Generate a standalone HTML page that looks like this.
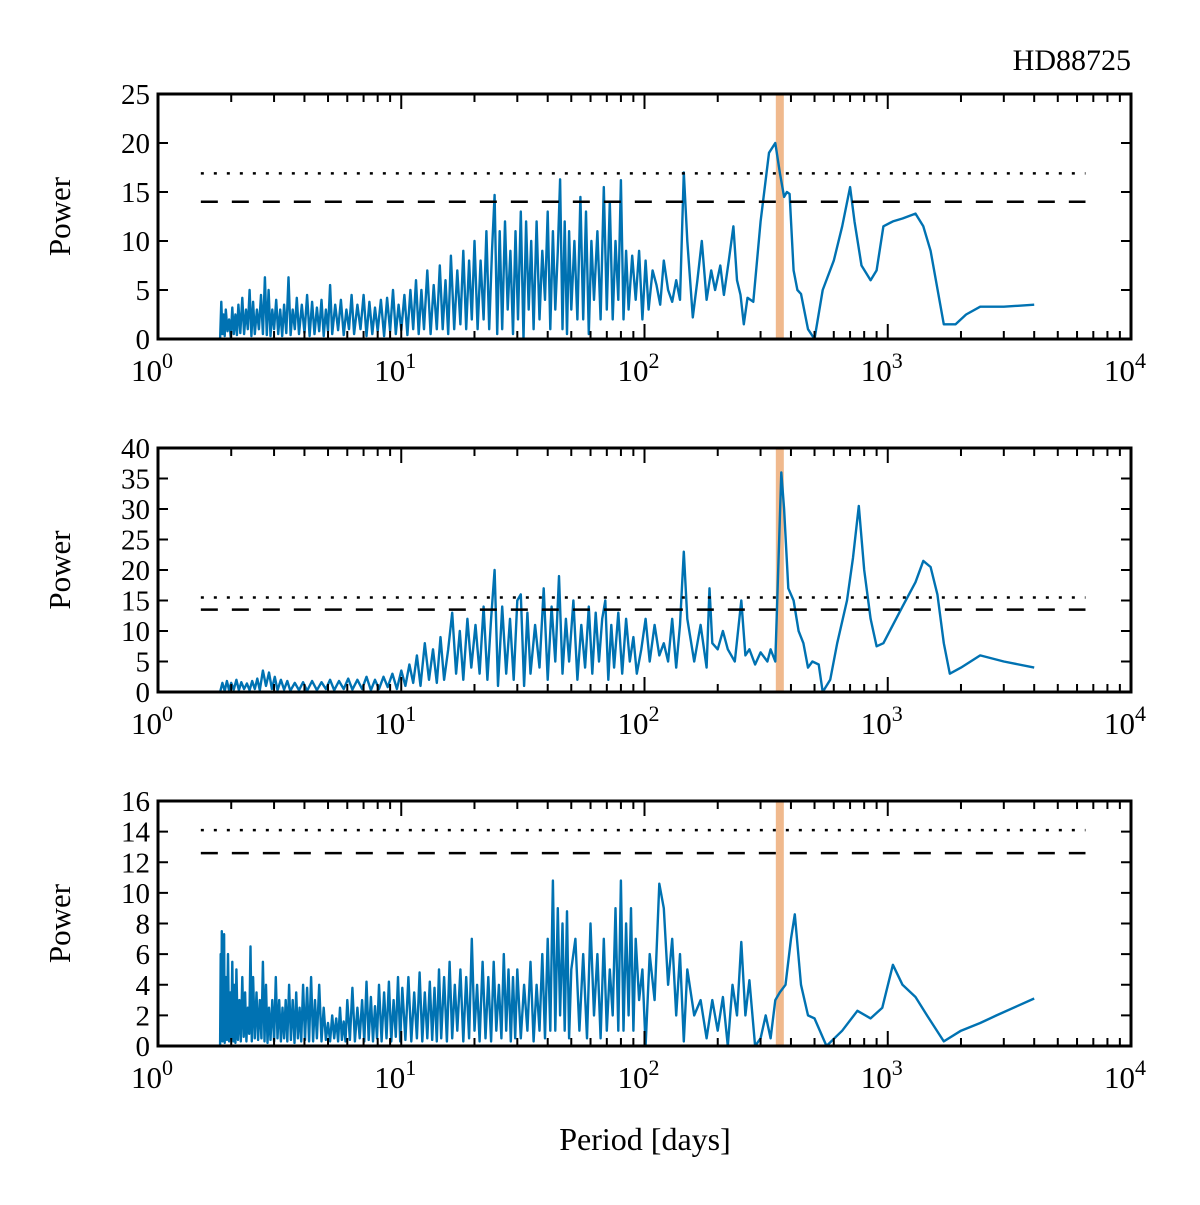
<!DOCTYPE html>
<html><head><meta charset="utf-8"><style>
body{margin:0;background:#fff}
svg{display:block}
text{font-family:"Liberation Serif","DejaVu Serif",serif;fill:#000}
</style></head><body>
<svg id="chart" width="1200" height="1205" viewBox="0 0 1200 1205" xmlns="http://www.w3.org/2000/svg">
<text x="1131" y="70" font-size="30" text-anchor="end">HD88725</text>
<text x="645" y="1150" font-size="32" text-anchor="middle">Period [days]</text>
</svg>
<script>
// Panel 1: [period, power]
const p1Data=[[1.8,0],[1.82,3.8],[1.84,0.5],[1.86,2.5],[1.88,0.3],[1.9,3],[1.93,0.8],[1.96,2],[1.99,0.2],[2.02,3.2],[2.05,0.5],[2.08,2.5],[2.11,0.4],[2.14,3.5],[2.18,0.6],[2.22,4.2],[2.26,0.5],[2.3,3],[2.34,1],[2.38,5],[2.42,0.3],[2.46,3.8],[2.5,0.5],[2.55,3],[2.6,1],[2.65,4.5],[2.7,0.5],[2.75,6.3],[2.8,0.4],[2.85,5],[2.9,0.3],[2.95,3],[3.0,1],[3.06,4],[3.12,0.5],[3.18,3],[3.24,0.3],[3.3,3.5],[3.37,0.6],[3.44,6.3],[3.51,0.4],[3.58,3],[3.65,1],[3.72,4.2],[3.8,0.5],[3.9,3.5],[4.0,0.6],[4.1,4.5],[4.2,0.3],[4.3,3.8],[4.4,0.5],[4.5,3.2],[4.6,0.8],[4.7,4],[4.8,0.3],[4.9,3],[5.0,0.8],[5.1,5.5],[5.2,0.5],[5.35,3.5],[5.5,0.9],[5.65,4],[5.8,0.4],[5.95,3],[6.1,1],[6.25,4.5],[6.4,0.5],[6.6,3.5],[6.8,1],[7.0,4.5],[7.2,0.3],[7.4,3.8],[7.6,0.5],[7.8,3.2],[8.0,0.8],[8.25,4],[8.5,0.3],[8.75,4.2],[9.0,0.8],[9.25,5],[9.5,0.5],[9.75,3.5],[10,0.9],[10.3,4.5],[10.6,0.4],[10.9,5],[11.2,1],[11.5,6],[11.8,0.5],[12.1,5],[12.4,1],[12.8,7],[13.2,0.5],[13.6,5.5],[14,1],[14.4,7.5],[14.8,1],[15.2,6],[15.6,0.5],[16,8.5],[16.5,1],[17,7],[17.5,1.5],[18,9],[18.5,1],[19,8],[19.5,2],[20,10],[20.6,1],[21.2,8],[21.8,2],[22.4,11],[23,1],[23.6,9],[24.2,14.7],[24.8,0.5],[25.4,11],[26,1],[26.7,12],[27.4,3],[28.1,9],[28.8,0.5],[29.5,11],[30.2,2],[31,13],[31.8,0],[32.6,12],[33.4,3],[34.2,10],[35,1],[36,12],[37,2],[38,9],[39,4],[40,13],[41,1],[42,11],[43,3],[44,9],[45,16.3],[46,1],[47,12],[48,0.5],[49,11],[50,3],[51.5,10],[53,2],[54.5,14.5],[56,2],[57.5,13],[59,0.5],[60.5,10],[62,4],[64,11],[66,2],[68,15.5],[70,3],[72,14],[74,2],[76,10],[78,4],[80,16.2],[82,2],[84,9],[86,3],[89,8.5],[92,4],[95,9],[98,2],[101,8],[104,3],[108,7],[112,5.5],[116,3.5],[120,8],[125,5],[130,3.8],[135,6],[140,4],[145,17],[150,10],[158,2.2],[165,6],[172,10],[180,4],[188,7],[195,5],[205,7.5],[212,4.5],[222,8],[232,11.5],[240,6],[248,4.5],[256,1.5],[265,4.2],[280,3.8],[300,12],[325,19],[345,20],[360,17],[375,14.5],[385,15],[395,14.8],[410,7],[425,5],[440,4.6],[470,1],[500,0],[540,5],[600,8],[650,11.5],[700,15.5],[730,12],[780,7.5],[850,6],[900,7],[960,11.5],[1050,12],[1150,12.3],[1300,12.8],[1400,11.5],[1500,9],[1700,1.5],[1900,1.5],[2100,2.5],[2400,3.3],[3000,3.3],[4000,3.5]];
const p1Thr=[16.9,14.0];
// Panel 2
const p2Data=[[1.8,0],[1.84,1.5],[1.88,0.2],[1.92,1.8],[1.96,0.3],[2.0,1.5],[2.05,0.4],[2.1,2],[2.15,0.3],[2.2,1.6],[2.26,0.5],[2.32,1.4],[2.38,0.3],[2.44,1.8],[2.5,0.5],[2.56,2.2],[2.62,0.3],[2.7,3.5],[2.78,1],[2.86,3.2],[2.94,0.5],[3.02,2.5],[3.1,0.3],[3.2,2],[3.3,0.4],[3.4,1.8],[3.5,0.2],[3.65,1.5],[3.8,0.3],[3.95,1.6],[4.1,0.2],[4.3,1.8],[4.5,0.3],[4.7,1.6],[4.9,0.5],[5.1,2],[5.3,0.3],[5.55,1.8],[5.8,0.5],[6.05,2.2],[6.3,0.4],[6.6,2],[6.9,0.5],[7.2,2.5],[7.5,0.3],[7.8,2],[8.1,0.5],[8.45,2.5],[8.8,0.8],[9.2,3],[9.6,0.5],[10,3.5],[10.4,1],[10.8,4.5],[11.2,1.5],[11.6,6],[12,1],[12.5,8],[13,2],[13.5,7],[14,1.5],[14.5,9],[15,2],[15.6,7],[16.2,13],[16.8,3],[17.4,10],[18,2],[18.7,12],[19.4,4],[20.2,11],[21,3],[21.8,14],[22.6,2],[23.4,12],[24.2,20],[25,1],[26,14],[27,3],[28,12],[29,2],[30,15],[31,16],[32,1],[33,13],[34,3],[35.5,11],[37,4],[38.5,17],[40,2],[41.5,14],[43,5],[44.5,19],[46,3],[47.5,12],[49,5],[51,15],[53,2],[55,11],[57,4],[59,14],[61,3],[63,13],[65,5],[67,12],[69,15],[71,2],[73,11],[75,4],[78,13],[81,3],[84,12],[87,5],[90,9],[93,3],[97,7],[101,12],[105,5],[110,11],[115,6],[120,8],[125,5],[130,12],[135,4],[140,11],[145,23],[150,12],[160,5],[170,11],[180,4],[185,17],[190,8],[200,7],[210,10],[220,7],[235,5],[250,15],[260,6],[270,7],[285,4.5],[300,6.5],[320,5],[330,7],[345,5],[365,36],[375,30],[390,17],[410,15],[430,10],[450,8],[470,4],[490,5],[520,4.5],[540,0],[580,2],[620,8],[680,15],[720,22],[760,30.5],[800,20],[850,12],[900,7.5],[960,8],[1050,11],[1150,14],[1300,18],[1400,21.5],[1500,20.5],[1600,16],[1700,8],[1800,3],[2000,4],[2400,6],[3000,5],[4000,4]];
const p2Thr=[15.5,13.5];
// Panel 3
const p3Data=[[1.8,0],[1.81,6],[1.82,0.5],[1.83,7.5],[1.84,0.3],[1.85,5],[1.86,1],[1.87,7.3],[1.88,0.2],[1.9,4.5],[1.92,0.4],[1.94,6],[1.96,0.3],[1.98,3.5],[2.0,0.5],[2.02,5.5],[2.04,0.3],[2.06,4],[2.08,0.2],[2.1,5],[2.13,0.4],[2.16,3],[2.19,0.3],[2.22,4.5],[2.25,0.6],[2.28,3.5],[2.31,0.3],[2.34,2.5],[2.37,0.8],[2.4,6.5],[2.43,0.3],[2.46,4.5],[2.5,0.5],[2.54,3.5],[2.58,0.4],[2.62,3],[2.66,0.5],[2.7,5.5],[2.74,0.3],[2.78,4],[2.82,0.2],[2.86,2.5],[2.9,0.4],[2.95,3],[3.0,0.3],[3.05,4.5],[3.1,0.5],[3.15,3],[3.2,0.3],[3.25,2.5],[3.3,0.5],[3.35,3],[3.4,0.3],[3.46,4],[3.52,0.4],[3.58,3],[3.64,0.2],[3.7,3.5],[3.76,0.5],[3.82,2.5],[3.88,0.3],[3.95,4],[4.02,0.4],[4.1,3.8],[4.18,0.3],[4.26,4.5],[4.34,0.3],[4.42,3],[4.5,0.5],[4.6,4],[4.7,0.3],[4.8,2.5],[4.9,0.4],[5.0,1.5],[5.1,0.3],[5.2,2],[5.3,0.5],[5.4,1.8],[5.5,0.3],[5.6,2.5],[5.7,0.4],[5.8,1.6],[5.9,0.3],[6.0,3],[6.15,0.4],[6.3,3.8],[6.45,0.3],[6.6,2.5],[6.75,0.5],[6.9,3],[7.05,0.3],[7.2,4.2],[7.35,0.4],[7.5,3.2],[7.65,0.3],[7.8,2.6],[7.95,0.5],[8.1,4],[8.3,0.3],[8.5,3.5],[8.7,0.5],[8.9,4.2],[9.1,0.3],[9.3,3],[9.5,0.6],[9.7,4.5],[9.9,0.3],[10.1,3.8],[10.4,0.4],[10.7,4.5],[11,0.3],[11.3,3.5],[11.6,0.5],[11.9,4.8],[12.2,0.3],[12.5,3.5],[12.8,0.5],[13.1,4.2],[13.4,0.4],[13.7,3.8],[14,0.3],[14.3,5],[14.6,0.5],[15,4.5],[15.4,0.3],[15.8,5.5],[16.2,0.5],[16.6,4],[17,1],[17.5,5],[18,0.3],[18.5,4.5],[19,0.5],[19.5,7],[20,1],[20.5,4],[21,0.3],[21.6,5.5],[22.2,0.5],[22.8,4.5],[23.4,0.3],[24,5.5],[24.6,1],[25.2,4],[25.8,0.5],[26.4,6],[27,1],[27.6,5],[28.2,0.3],[28.8,4.5],[29.4,0.5],[30,5],[31,0.5],[32,4],[33,1],[34,5.5],[35,0.3],[36,4],[37,1],[38,6],[39,0.5],[40,7],[41,1],[42,10.8],[43,1],[44,9],[45,2],[46,8],[47,1],[48,8.8],[49,0.5],[50,5],[52,7],[54,1],[56,6],[58,0.5],[60,8],[62,2],[64,6],[66,0.5],[68,7],[70,1],[72,5],[74,2],[76,9],[78,1],[80,10.8],[82,1],[84,8],[86,2],[88,9],[90,1],[92,7],[95,3],[98,5],[101,0],[105,6],[110,3],[115,10.6],[120,9],[125,4],[130,7],[135,2],[140,6],[145,0.3],[150,5],[160,2],[170,3],[180,0.5],[190,3],[200,1],[210,3.2],[220,0],[230,4],[240,2],[250,6.8],[260,2],[270,4.3],[285,0],[300,0.5],[315,2],[330,0.5],[345,3],[360,3.5],[380,4],[400,7],[415,8.6],[440,4],[470,2],[500,1.8],[560,0],[650,1],[750,2.3],[850,1.8],[950,2.5],[1050,5.3],[1150,4],[1300,3.2],[1450,2],[1700,0.3],[2000,1],[2400,1.5],[2800,2],[3400,2.6],[4000,3.1]];
const p3Thr=[14.1,12.6];
const bandPeriod=360;

const panels=[
 {name:'top',data:p1Data,thr:p1Thr,ymax:25,ystep:5,y0:94,y1:339},
 {name:'middle',data:p2Data,thr:p2Thr,ymax:40,ystep:5,y0:448,y1:692},
 {name:'bottom',data:p3Data,thr:p3Thr,ymax:16,ystep:2,y0:801,y1:1046}
];
const svg=document.getElementById('chart');
const NS='http://www.w3.org/2000/svg';
const X0=158,X1=1131;
const xs=p=>X0+(X1-X0)*Math.log10(p)/4;
function mk(tag,attrs,parent){const e=document.createElementNS(NS,tag);for(const k in attrs)e.setAttribute(k,attrs[k]);(parent||svg).appendChild(e);return e;}
panels.forEach((P)=>{
 const ys=v=>P.y1-(P.y1-P.y0)*v/P.ymax;
 const g=mk('g',{});
 
 
 const band=mk('rect',{x:xs(bandPeriod)-4,y:P.y0,width:8,height:P.y1-P.y0,fill:'#f0b98d'},g);
 
 
 let d='';P.data.forEach((pt,i)=>{d+=(i?'L':'M')+xs(pt[0]).toFixed(1)+' '+ys(pt[1]).toFixed(1);});
 const line=mk('path',{d:d,fill:'none',stroke:'#0072b2','stroke-width':2.4,'stroke-linejoin':'round'},g);
 
 
 const t1=mk('line',{x1:xs(1.5),x2:xs(6500),y1:ys(P.thr[0]),y2:ys(P.thr[0]),stroke:'#000','stroke-width':2.5,'stroke-dasharray':'3 10'},g);
 
 
 const t2=mk('line',{x1:xs(1.5),x2:xs(6500),y1:ys(P.thr[1]),y2:ys(P.thr[1]),stroke:'#000','stroke-width':2.5,'stroke-dasharray':'17 14'},g);
 
 
 for(let dec=0;dec<4;dec++)for(let m=1;m<=9;m++){const x=xs(m*Math.pow(10,dec));const L=m==1?15:8;
  mk('line',{x1:x,x2:x,y1:P.y1,y2:P.y1-L,stroke:'#000','stroke-width':2},g);
  mk('line',{x1:x,x2:x,y1:P.y0,y2:P.y0+L,stroke:'#000','stroke-width':2},g);}
 for(let dec=0;dec<=4;dec++){const tx=mk('text',{x:xs(Math.pow(10,dec))-6,y:P.y1+42,'font-size':31,'text-anchor':'middle'},g);
  
  
  tx.innerHTML='10<tspan dy="-13" font-size="22">'+dec+'</tspan>';}
 for(let v=0;v<=P.ymax;v+=P.ystep){const y=ys(v);
  mk('line',{x1:X0,x2:X0+10,y1:y,y2:y,stroke:'#000','stroke-width':2},g);
  mk('line',{x1:X1,x2:X1-10,y1:y,y2:y,stroke:'#000','stroke-width':2},g);
  const ty=mk('text',{x:X0-8,y:y+10,'font-size':29,'text-anchor':'end'},g);
  
  
  ty.textContent=v;}
 const fr=mk('rect',{x:X0,y:P.y0,width:X1-X0,height:P.y1-P.y0,fill:'none',stroke:'#000','stroke-width':3},g);
 
 
 const yl=mk('text',{x:0,y:0,'font-size':31,'text-anchor':'middle',transform:'translate(70,'+((P.y0+P.y1)/2)+') rotate(-90)'},g);
 
 
 yl.textContent='Power';
});
</script>
</body></html>
